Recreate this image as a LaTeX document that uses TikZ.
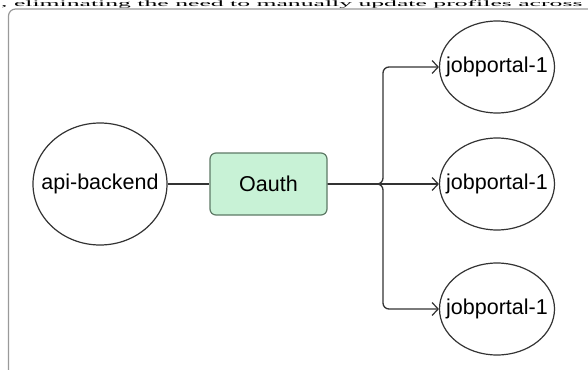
\documentclass[tikz,border=0pt]{standalone}
\usepackage{fontspec}
\setmainfont{Liberation Sans}
\newfontfamily\serifcap{Liberation Serif}
\usetikzlibrary{arrows.meta,shapes.geometric}
\definecolor{linegray}{HTML}{333333}
\definecolor{framegray}{HTML}{9A9A9A}
\definecolor{mint}{HTML}{C8F2D6}
\definecolor{mintline}{HTML}{5E7A66}
\tikzset{
  conn/.style={draw=linegray, line width=1.3pt},
  branch/.style={conn, rounded corners=6pt, -{Straight Barb[length=6pt,width=13pt,line width=1.2pt]}},
  circnode/.style={ellipse, draw=linegray, line width=1.2pt, fill=white, inner sep=0pt, font=\fontsize{21.5}{25}\selectfont},
  boxnode/.style={draw=mintline, line width=1.2pt, fill=mint, rounded corners=6pt, minimum width=117pt, minimum height=62pt, font=\fontsize{21.5}{25}\selectfont}
}
\begin{document}
\begin{tikzpicture}[x=1pt,y=-1pt]
\useasboundingbox (0,0) rectangle (588,369);
\clip (0,0) rectangle (588,369);
% cut-off caption line at the top (squashed to stay within the page)
\node[anchor=base west, inner sep=0pt, font=\serifcap\fontsize{24}{28}\selectfont] (caption) at (1,6.5) {\scalebox{1.07}[0.35]{, eliminating the need to manually update profiles across}};
% frame
\draw[framegray, line width=1.2pt, rounded corners=7pt] (8.5,9) rectangle (620,400);
% nodes
\node[circnode, minimum width=134pt, minimum height=122pt] (api) at (100,184) {\makebox[0pt]{api-backend}};
\node[boxnode] (oauth) at (268.5,184) {Oauth};
\node[circnode, minimum width=115pt, minimum height=92pt] (j1) at (497,67) {\makebox[0pt]{jobportal-1}};
\node[circnode, minimum width=115pt, minimum height=92pt] (j2) at (497,184) {\makebox[0pt]{jobportal-1}};
\node[circnode, minimum width=115pt, minimum height=92pt] (j3) at (497,309) {\makebox[0pt]{jobportal-1}};
\coordinate (split) at (383,184);
% connectors
\draw[conn] (api.east) -- (oauth.west);
\draw[branch] (oauth.east) -- (split) -- (split |- j1.west) -- (j1.west);
\draw[branch] (oauth.east) -- (j2.west);
\draw[branch] (oauth.east) -- (split) -- (split |- j3.west) -- (j3.west);
\end{tikzpicture}
\end{document}
